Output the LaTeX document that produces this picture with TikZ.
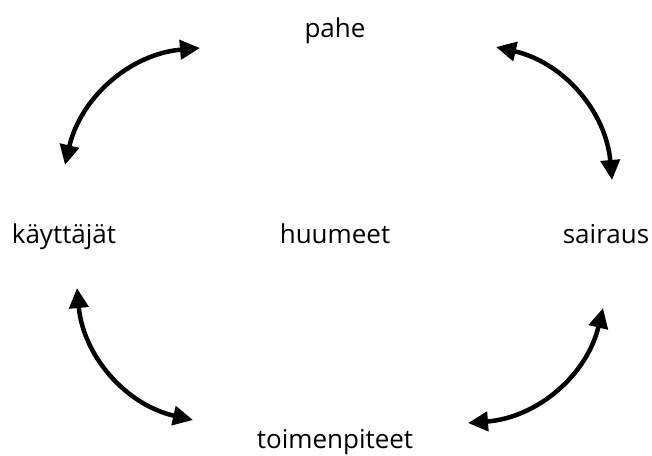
\documentclass[tikz,border=0pt]{standalone}
\usepackage{fontspec}
\setmainfont{Open Sans}
\usetikzlibrary{arrows.meta}
\tikzset{
  word/.style={anchor=base,inner sep=0pt,font=\fontsize{26}{30}\selectfont},
  cycle/.style={line width=4.5pt,{Triangle[length=20pt,width=19pt]}-{Triangle[length=20pt,width=19pt]}}
}
\begin{document}
\begin{tikzpicture}[x=1pt,y=-1pt]
  \useasboundingbox (0,0) rectangle (652,455);
  \node (pahe) [word] at (335,37) {pahe};
  \node (kayttajat) [word] at (64,243) {käyttäjät};
  \node (huumeet) [word] at (335,243) {huumeet};
  \node (sairaus) [word] at (606,243) {sairaus};
  \node (toimenpiteet) [word] at (335,448) {toimenpiteet};
  % arrow ends
  \coordinate (tl1) at (65,165);
  \coordinate (tl2) at (200,48);
  \coordinate (tr1) at (496,47);
  \coordinate (tr2) at (612,180);
  \coordinate (br1) at (603,308);
  \coordinate (br2) at (468,423);
  \coordinate (bl1) at (193,420);
  \coordinate (bl2) at (77,288);
  \draw [cycle] (tl1) to [bend left=36] (tl2);
  \draw [cycle] (tr1) to [bend left=36] (tr2);
  \draw [cycle] (br1) to [bend left=36] (br2);
  \draw [cycle] (bl1) to [bend left=36] (bl2);
\end{tikzpicture}
\end{document}
